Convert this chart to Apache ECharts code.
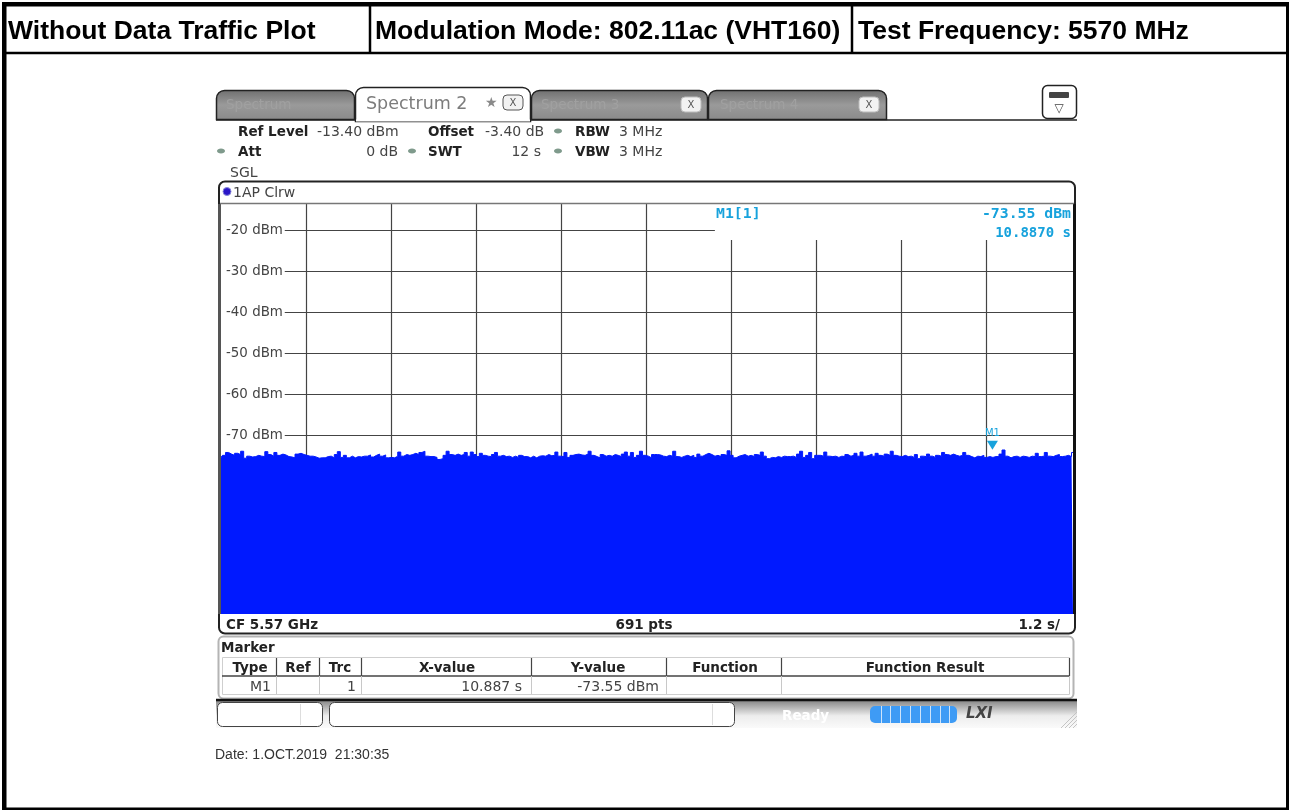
<!DOCTYPE html>
<html>
<head>
<meta charset="utf-8">
<title>Without Data Traffic Plot</title>
<style>
  html, body { margin: 0; padding: 0; background: #fff; }
  #chart { width: 1289px; height: 810px; }
</style>
<script src="https://cdn.jsdelivr.net/npm/echarts@6/dist/echarts.min.js"></script>
</head>
<body>
<div id="chart"></div>
<script>
// trace top in three stretches (dBm)
const traceLeft = [
  -75.3,-74.8,-74.1,-74.5,-74.8,-74.3,-74.6,-73.8,-75.5,-75.0,-75.2,-75.1,-74.8,-75.0,-75.1,-73.9,-74.6,-75.0,
  -74.1,-74.8,-74.5,-74.7,-75.1,-75.2,-75.4,-74.5,-74.3,-74.6,-74.8,-75.0,-75.0,-75.2,-75.5,-75.4,-75.4,-75.1,
  -75.0,-75.4,-74.6,-73.9,-75.3,-74.8,-75.4,-75.0,-75.4,-75.1,-75.2,-75.0,-75.0,-74.7,-75.2,-74.8,-74.5,-75.0,
  -74.7,-75.4,-75.3,-75.4,-75.0,-74.0,-75.0,-74.6,-74.8,-74.6,-74.3,-74.6,-74.1,-73.8,-75.0,-75.1,-75.1,-75.3,
  -75.8,-75.6,-74.8,-73.8,-74.6,-74.8,-74.5,-74.8,-74.6,-74.1,-75.0,-74.0,-74.6,-75.1,-74.3,-74.8,-75.0,-75.1,
  -74.6,-74.1,-75.0,-74.8,-75.1,-75.0
];
const traceMiddle = [
  -75.3,-75.0,-75.3,-74.8,-75.1,-75.1,-75.4,-75.0,-75.4,-75.0,-74.9,-75.0,-74.6,-74.9,-74.8,-74.0,-75.0,-75.1,
  -74.1,-75.3,-74.8,-74.6,-74.5,-74.7,-74.8,-74.5,-73.8,-74.8,-75.1,-75.4,-74.6,-75.0,-74.8,-75.0,-74.6,-74.8,
  -75.1,-74.5,-74.0,-75.0,-74.1,-75.3,-74.8,-73.8,-74.8,-75.0,-75.4,-74.6,-74.6,-74.7,-75.0,-75.1,-74.8,-75.0,
  -73.8,-75.1,-75.3,-75.0,-74.8,-75.1,-74.8,-75.3,-74.5,-75.0,-74.6,-74.3,-74.6,-75.0,-74.8,-75.1,-74.6,-74.8,
  -73.7,-74.8,-75.4,-75.0,-74.8,-74.6,-75.0,-74.8,-75.1,-74.6,-74.8,-74.0,-75.0,-75.6,-75.3,-75.4,-75.1,-75.3,
  -75.0,-75.1,-75.1,-75.0,-75.3
];
const traceRight = [
  -74.5,-73.8,-75.3,-74.8,-74.1,-75.6,-74.8,-74.8,-75.0,-74.0,-75.0,-75.1,-75.0,-75.3,-75.0,-75.1,-74.6,-75.0,
  -74.8,-74.3,-75.0,-74.0,-75.0,-74.8,-74.5,-75.0,-74.3,-74.8,-75.0,-74.5,-74.8,-73.8,-74.8,-75.0,-75.1,-74.8,
  -75.1,-75.0,-75.3,-74.6,-75.6,-75.0,-75.1,-74.5,-75.0,-75.3,-74.8,-75.0,-74.1,-74.6,-74.8,-74.5,-74.8,-75.0,
  -74.8,-74.1,-74.8,-75.1,-75.4,-75.0,-75.1,-74.8,-75.3,-75.1,-75.3,-75.1,-75.1,-74.5,-73.5,-75.0,-75.4,-75.1,
  -75.0,-75.3,-75.0,-75.1,-75.3,-75.0,-75.1,-74.3,-75.1,-75.0,-74.1,-75.0,-75.1,-74.8,-74.6,-75.1,-75.0,-74.8,
  -75.1,-74.1
];
const traceLevels = traceLeft.concat(traceMiddle, traceRight);

const sweepEnd = 12.024; // the blue fill runs a touch past the last division
const refLevel = -13.4;
const bottomLevel = -113.4;
const levelTicks = [-20, -30, -40, -50, -60, -70];
const timeTicks = [1.2, 2.4, 3.6, 4.8, 6, 7.2, 8.4, 9.6, 10.8];
const markerTime = 10.887;
const markerLevel = -73.55;

const tabNames = ['Spectrum', 'Spectrum 2', 'Spectrum 3', 'Spectrum 4'];
const headerCells = ['Without Data Traffic Plot', 'Modulation Mode: 802.11ac (VHT160)', 'Test Frequency: 5570 MHz'];
const tableHeads = ['Type', 'Ref', 'Trc', 'X-value', 'Y-value', 'Function', 'Function Result'];
const tableRow = ['M1', '', '1', '10.887 s', '-73.55 dBm', '', ''];

const LINE = '#444';
const MARK = '#17a2dc';
const BLUE = '#0019ff';
const UI = '"DejaVu Sans"';

const myChart = echarts.init(document.getElementById('chart'));
const Grad = echarts.graphic.LinearGradient;
let shapes = [];

function box(x, y, width, height, style, r, z) {
  shapes.push({
    type: 'rect', z: z || 1, silent: true,
    shape: { x, y, width, height, r: r || 0 },
    style,
  });
}
function seg(x1, y1, x2, y2, stroke, lineWidth, z) {
  shapes.push({
    type: 'line', z: z || 2, silent: true,
    shape: { x1, y1, x2, y2 },
    style: { stroke, lineWidth: lineWidth || 1 },
  });
}
function txt(text, x, y, font, fill, textAlign) {
  shapes.push({
    type: 'text', z: 6, silent: true,
    style: { text, x, y, font, fill: fill || '#222', textAlign: textAlign || 'left', textVerticalAlign: 'middle' },
  });
}
function dot(cx, cy) {
  shapes.push({
    type: 'ellipse', z: 3, silent: true,
    shape: { cx, cy, rx: 4, ry: 2.5 },
    style: { fill: '#7f9a8c' },
  });
}

// outer table of the report page
box(2, 2, 1287, 4.5, { fill: '#000' });
box(2, 2, 4.5, 808, { fill: '#000' });
box(1286, 2, 3, 808, { fill: '#000' });
box(2, 807.5, 1287, 2.5, { fill: '#000' });
seg(4, 53, 1287, 53, '#000', 2.5);
seg(370, 5, 370, 53, '#000', 2.5);
seg(852, 5, 852, 53, '#000', 2.5);
const headFont = 'bold 26.5px "Liberation Sans"';
txt(headerCells[0], 8, 31.5, headFont, '#000');
txt(headerCells[1], 375, 31.5, headFont, '#000');
txt(headerCells[2], 858, 31.5, headFont, '#000');

// tabs
const grayTab = new Grad(0, 0, 0, 1, [{ offset: 0, color: '#6f6f6f' }, { offset: 0.5, color: '#9a9a9a' }, { offset: 1, color: '#8a8a8a' }]);
box(216.5, 90.5, 138, 29, { fill: grayTab, stroke: '#222', lineWidth: 1.5 }, [8, 8, 0, 0]);
box(531.5, 90.5, 176, 29, { fill: grayTab, stroke: '#222', lineWidth: 1.5 }, [8, 8, 0, 0]);
box(708.5, 90.5, 178, 29, { fill: grayTab, stroke: '#222', lineWidth: 1.5 }, [8, 8, 0, 0]);
seg(216, 120, 1077, 120, '#222', 1.5);
box(355.5, 87.5, 175, 34, { fill: '#fff', stroke: '#222', lineWidth: 1.5 }, [8, 8, 0, 0], 3);
seg(356, 120.5, 530, 120.5, '#fff', 2, 4);
txt(tabNames[0], 226, 105, '13.5px ' + UI, '#a0a0a0');
txt(tabNames[1], 366, 104, '17.5px ' + UI, '#7c7c7c');
txt(tabNames[2], 541, 105, '13.5px ' + UI, '#a0a0a0');
txt(tabNames[3], 720, 105, '13.5px ' + UI, '#a0a0a0');
txt('★', 485, 103, '14px ' + UI, '#8a8a8a');
[[503, 95], [681, 97], [859, 97]].forEach(function (p, i) {
  box(p[0], p[1], 20, 15, { fill: '#f2f2f2', stroke: i ? '#bbb' : '#555', lineWidth: 1 }, 4, 4);
  txt('X', p[0] + 10, p[1] + 8, '10px ' + UI, '#555', 'center');
});
box(1042.5, 85.5, 34, 33, { fill: '#fff', stroke: '#222', lineWidth: 1.5 }, 5, 3);
box(1049, 92, 20, 6, { fill: '#444' }, 1, 4);
txt('▽', 1059, 109, '12px ' + UI, '#444', 'center');

// setup block
const bold12 = 'bold 13.5px ' + UI;
const reg12 = '14px ' + UI;
txt('Ref Level', 238, 132, bold12);
txt('-13.40 dBm', 317, 132, reg12, '#444');
txt('Offset', 428, 132, bold12);
txt('-3.40 dB', 485, 132, reg12, '#444');
txt('RBW', 575, 132, bold12);
txt('3 MHz', 619, 132, reg12, '#444');
txt('Att', 238, 152, bold12);
txt('0 dB', 398, 152, reg12, '#444', 'right');
txt('SWT', 428, 152, bold12);
txt('12 s', 541, 152, reg12, '#444', 'right');
txt('VBW', 575, 152, bold12);
txt('3 MHz', 619, 152, reg12, '#444');
txt('SGL', 230, 173, reg12, '#444');
dot(558, 131); dot(221, 151); dot(412, 151); dot(558, 151);

// diagram frame
box(219, 181.5, 856, 452, { fill: 'none', stroke: '#222', lineWidth: 2 }, 6, 5);
box(218, 204, 3, 410, { fill: '#555' }, 0, 5);
box(1073, 204, 3, 410, { fill: '#111' }, 0, 5);
seg(220, 203.5, 1074, 203.5, '#777', 1.5, 5);
shapes.push({ type: 'circle', z: 6, silent: true, shape: { cx: 227, cy: 191.5, r: 4 }, style: { fill: '#2a16c8', stroke: '#8a8ad8', lineWidth: 1 } });
txt('1AP Clrw', 233, 193, reg12, '#444');
txt('CF 5.57 GHz', 226, 625, bold12);
txt('691 pts', 644, 625, bold12, '#222', 'center');
txt('1.2 s/', 1060, 625, bold12, '#222', 'right');

// marker readout
const markFont = 'bold 14.8px "DejaVu Sans Mono"';
txt('M1[1]', 716, 214, markFont, MARK);
txt('-73.55 dBm', 1071, 214, markFont, MARK, 'right');
txt('10.8870 s', 1071, 233, 'bold 14px "DejaVu Sans Mono"', MARK, 'right');

// marker table
box(218.5, 636.5, 855, 62, { fill: '#fff', stroke: '#b4b4b4', lineWidth: 2 }, 5);
txt('Marker', 221, 648, bold12, '#222');
box(222.5, 657.5, 847, 37, { fill: 'none', stroke: '#cfcfcf', lineWidth: 1 }, 0, 2);
seg(222, 676, 1069, 676, '#444', 1.5);
const colEdges = [276, 319, 361, 531, 666, 781, 1069];
const headCenters = [250, 298, 340, 447, 598, 725, 925];
const cellEnds = [271, 0, 356, 522, 659, 0, 0];
colEdges.forEach(function (x, i) {
  seg(x + 0.5, 658, x + 0.5, 676, '#444', 1.2);
  seg(x + 0.5, 676, x + 0.5, 694, '#c8c8c8', 1);
  txt(tableHeads[i], headCenters[i], 668, bold12, '#222', 'center');
  if (tableRow[i]) txt(tableRow[i], cellEnds[i], 687, reg12, '#444', 'right');
});

// status bar
box(216, 701, 861, 27, { fill: new Grad(0, 0, 0, 1, [{ offset: 0, color: '#8a8a8a' }, { offset: 0.55, color: '#ededed' }, { offset: 1, color: '#fafafa' }]) });
seg(216, 700, 1077, 700, '#111', 2.5);
box(217.5, 702.5, 105, 24, { fill: '#fff', stroke: '#444', lineWidth: 1 }, 5, 2);
box(329.5, 702.5, 405, 24, { fill: '#fff', stroke: '#444', lineWidth: 1 }, 5, 2);
seg(300.5, 704, 300.5, 725, '#ddd', 1, 3);
seg(712.5, 704, 712.5, 725, '#ddd', 1, 3);
txt('Ready', 782, 716, bold12, '#fff');
box(870, 706, 87, 17, { fill: '#3e9bf5' }, 5, 2);
[881, 890, 900, 910, 920, 930, 940, 949].forEach(function (x) {
  seg(x + 0.5, 706, x + 0.5, 723, '#cfe4fa', 1, 3);
});
txt('LXI', 966, 714, 'italic bold 15px ' + UI, '#444');
[0, 4, 8, 12].forEach(function (d) {
  seg(1077 - 16 + d, 728, 1077, 712 + d, '#c4c4c4', 1, 3);
});

txt('Date: 1.OCT.2019  21:30:35', 215, 755, '14px "Liberation Sans"', '#333');

const tracePoints = traceLevels.map(function (v, i) {
  return [(sweepEnd * i) / (traceLevels.length - 1), v];
});

// gridline segments go through the axes so they stay on the same scale as the trace
const gridSegments = [];
levelTicks.forEach(function (v, i) {
  const from = 0.9;
  const to = i === 0 ? 6.97 : sweepEnd;
  gridSegments.push([{ coord: [from, v] }, { coord: [to, v] }]);
});
timeTicks.forEach(function (t) {
  const top = t > 6.97 ? -22.4 : refLevel;
  gridSegments.push([{ coord: [t, top] }, { coord: [t, bottomLevel] }]);
});

const option = {
  animation: false,
  backgroundColor: '#fff',
  grid: { left: 221, top: 203, width: 852, height: 411 },
  xAxis: {
    type: 'value',
    min: 0,
    max: sweepEnd,
    show: false,
    splitLine: { show: false },
  },
  yAxis: {
    type: 'value',
    min: bottomLevel,
    max: refLevel,
    axisLine: { show: false },
    axisTick: { show: false },
    splitLine: { show: false },
    axisLabel: {
      inside: true,
      margin: 5,
      customValues: levelTicks,
      fontFamily: 'DejaVu Sans',
      fontSize: 13.4,
      color: '#444',
      padding: [2, 0, 0, 0],
      formatter: function (v) { return v + ' dBm'; },
    },
  },
  series: [
    {
      type: 'line',
      z: 1,
      silent: true,
      data: [],
      markLine: {
        silent: true,
        z: 1,
        symbol: 'none',
        animation: false,
        label: { show: false },
        lineStyle: { color: LINE, width: 1.2, type: 'solid' },
        data: gridSegments,
      },
    },
    {
      name: 'Trace 1',
      type: 'line',
      z: 3,
      data: tracePoints,
      step: 'middle',
      showSymbol: false,
      lineStyle: { color: BLUE, width: 1 },
      areaStyle: { color: BLUE, opacity: 1, origin: 'start' },
      markPoint: {
        silent: true,
        z: 4,
        symbol: 'triangle',
        symbolRotate: 180,
        symbolSize: [11, 9],
        symbolOffset: [0, -5],
        itemStyle: { color: MARK },
        label: {
          show: true,
          position: 'top',
          distance: 2,
          formatter: 'M1',
          color: MARK,
          fontFamily: 'DejaVu Sans',
          fontSize: 10,
        },
        data: [{ coord: [markerTime, markerLevel] }],
      },
    },
  ],
  graphic: { elements: shapes },
};
myChart.setOption(option, true);
window.addEventListener('resize', () => {
  myChart.resize();
});
</script>
</body>
</html>
